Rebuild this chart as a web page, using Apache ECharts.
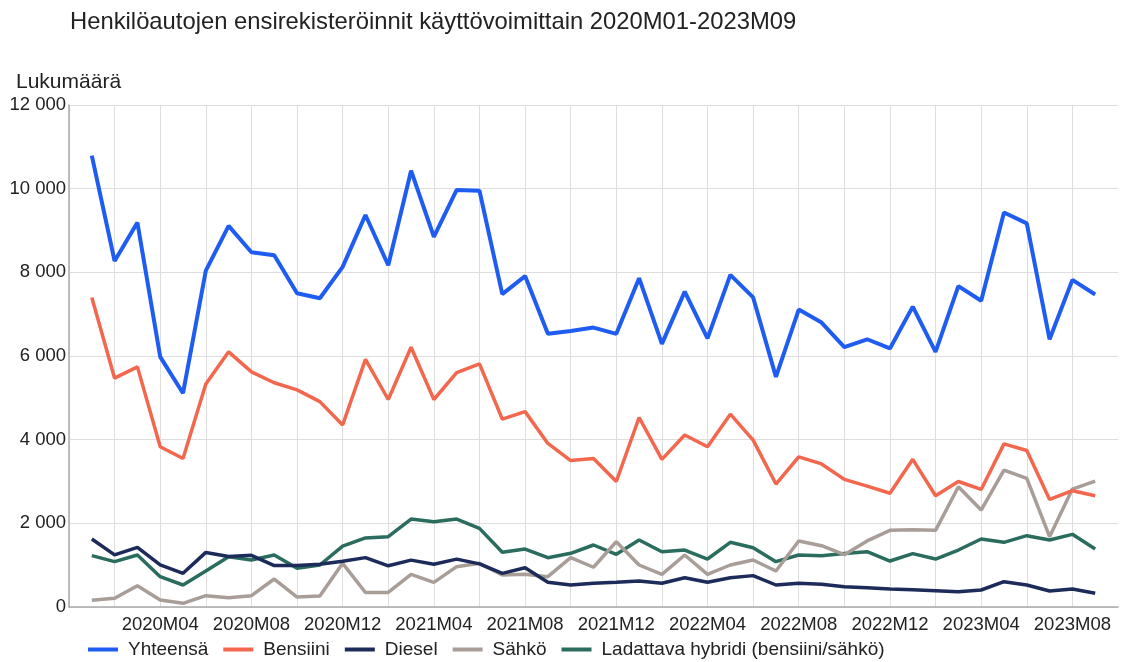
<!DOCTYPE html>
<html>
<head>
<meta charset="utf-8">
<script src="https://cdn.jsdelivr.net/npm/echarts@6/dist/echarts.min.js"></script>
<style>
html,body{margin:0;padding:0;background:#fff;overflow:hidden;}
#c{width:1121px;height:662px;}
</style>
</head>
<body>
<div id="c"></div>
<script>
var months = ["2020M01","2020M02","2020M03","2020M04","2020M05","2020M06","2020M07","2020M08","2020M09","2020M10","2020M11","2020M12",
"2021M01","2021M02","2021M03","2021M04","2021M05","2021M06","2021M07","2021M08","2021M09","2021M10","2021M11","2021M12",
"2022M01","2022M02","2022M03","2022M04","2022M05","2022M06","2022M07","2022M08","2022M09","2022M10","2022M11","2022M12",
"2023M01","2023M02","2023M03","2023M04","2023M05","2023M06","2023M07","2023M08","2023M09"];

var yhteensa = [10790,8270,9190,5980,5110,8040,9110,8480,8410,7500,7380,8130,9370,8170,10430,8850,9970,9950,7480,7910,6530,6600,6680,6530,7860,6290,7540,6420,7940,7400,5500,7110,6800,6210,6400,6180,7180,6100,7670,7320,9430,9170,6400,7820,7470];
var bensiini = [7400,5470,5740,3830,3550,5330,6100,5620,5360,5190,4910,4350,5920,4960,6210,4960,5600,5810,4490,4670,3910,3500,3550,3000,4530,3530,4110,3830,4610,3990,2940,3590,3420,3050,2890,2720,3530,2660,3000,2810,3900,3740,2570,2780,2660];
var diesel = [1625,1245,1425,1005,805,1305,1205,1235,990,990,1020,1095,1180,985,1120,1020,1145,1030,805,940,590,526,566,590,620,566,700,590,700,750,526,566,542,486,462,430,414,390,366,406,605,526,382,430,327];
var sahko = [160,207,510,167,88,271,223,271,669,239,263,1044,347,347,781,590,964,1044,765,781,725,1179,950,1562,1004,781,1243,781,1004,1123,860,1577,1466,1250,1580,1832,1848,1832,2876,2318,3274,3075,1681,2820,3011];
var hybridi = [1227,1084,1243,725,526,860,1203,1123,1243,924,1004,1454,1650,1681,2103,2040,2103,1880,1307,1386,1179,1283,1482,1259,1601,1322,1362,1147,1546,1418,1084,1243,1227,1280,1322,1099,1275,1147,1362,1625,1546,1705,1601,1737,1386];

var seriesNames = ["Yhteensä","Bensiini","Diesel","Sähkö","Ladattava hybridi (bensiini/sähkö)"];
var seriesData = [yhteensa, bensiini, diesel, sahko, hybridi];
var colors = ["#1f5cf2","#f2674d","#1c2b5a","#a89d97","#2a6c5e"];
var widths = [4,3.5,3.5,3.5,3.5];

var FONT = "'Liberation Sans', Arial, sans-serif";

function fmt(v){ return String(v).replace(/\B(?=(\d{3})+(?!\d))/g, ' '); }

var chart = echarts.init(document.getElementById('c'), null, {renderer:'canvas'});
chart.setOption({
  animation: false,
  backgroundColor: '#fff',
  title: [
    {text: 'Henkilöautojen ensirekisteröinnit käyttövoimittain 2020M01-2023M09', left: 70, top: 10, padding: 0,
     textStyle: {fontFamily: FONT, fontSize: 23.8, fontWeight: 'normal', color: '#222'}},
    {text: 'Lukumäärä', left: 16, top: 72, padding: 0,
     textStyle: {fontFamily: FONT, fontSize: 21, fontWeight: 'normal', color: '#222'}}
  ],
  legend: {
    left: 88, top: 640, padding: 0,
    icon: 'rect',
    itemWidth: 30, itemHeight: 4, itemGap: 15,
    textStyle: {fontFamily: FONT, fontSize: 19, color: '#222', padding: [0,0,0,5]},
    data: seriesNames
  },
  grid: {left: 69, right: 0, top: 105, bottom: 55},
  xAxis: {
    type: 'value', min: 0, max: 46, interval: 2,
    axisLine: {show: true, lineStyle: {color: '#aaa', width: 1.5}},
    axisTick: {show: false},
    splitLine: {show: true, showMaxLine: false, lineStyle: {color: '#dedede', width: 1}},
    axisLabel: {
      fontFamily: FONT, fontSize: 18.5, color: '#222', margin: 8,
      formatter: function(v){ return (v > 0 && v % 4 === 0 && v <= months.length) ? months[v-1] : ''; }
    }
  },
  yAxis: {
    type: 'value', min: 0, max: 12000, interval: 2000,
    axisLine: {show: true, lineStyle: {color: '#aaa', width: 1.5}},
    axisTick: {show: false},
    splitLine: {show: true, lineStyle: {color: '#dedede', width: 1}},
    axisLabel: {fontFamily: FONT, fontSize: 18.5, color: '#222', margin: 3, formatter: fmt}
  },
  series: seriesNames.map(function(n, k){
    return {
      name: n, type: 'line', symbol: 'none',
      data: seriesData[k].map(function(v, i){ return [i+1, v]; }),
      lineStyle: {color: colors[k], width: widths[k]},
      itemStyle: {color: colors[k]},
      z: 10 - k
    };
  })
});
</script>
</body>
</html>
